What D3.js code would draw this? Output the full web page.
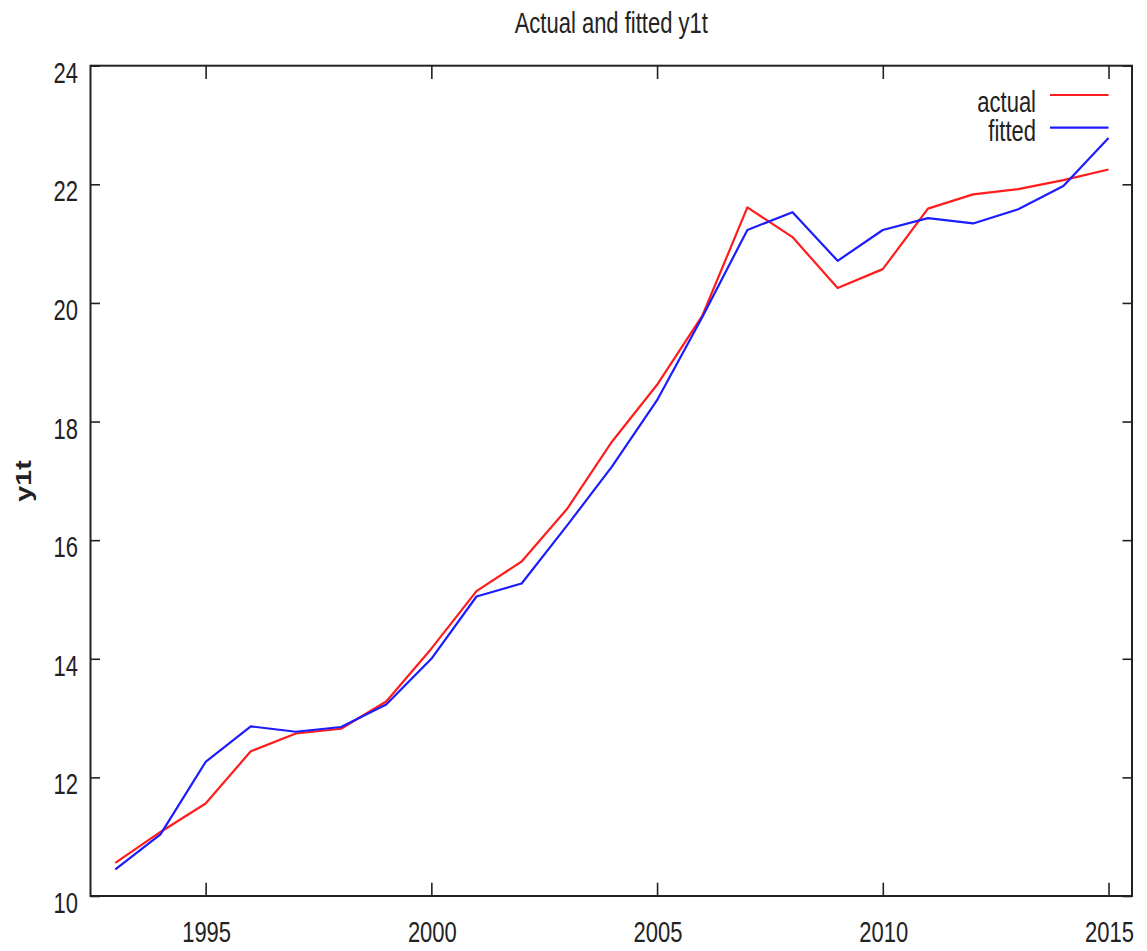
<!DOCTYPE html>
<html>
<head>
<meta charset="utf-8">
<script src="https://cdn.jsdelivr.net/npm/d3@7"></script>
<style>
  html, body { margin: 0; padding: 0; background: #ffffff; }
  svg text { font-family: "Liberation Sans", Arial, sans-serif; fill: #222; }
</style>
</head>
<body>
<div id="chart"></div>
<script>
// Years on the horizontal axis
const years = [1993, 1994, 1995, 1996, 1997, 1998, 1999, 2000, 2001, 2002, 2003, 2004,
               2005, 2006, 2007, 2008, 2009, 2010, 2011, 2012, 2013, 2014, 2015];

// Observed series
const actual = [10.56, 11.08, 11.56, 12.44, 12.74, 12.82, 13.28, 14.17, 15.14, 15.64, 16.52, 17.66,
                18.62, 19.78, 21.61, 21.11, 20.25, 20.57, 21.59, 21.83, 21.92, 22.07, 22.25];

// Model fitted values
const fitted = [10.45, 11.04, 12.26, 12.86, 12.77, 12.85, 13.23, 14.00, 15.05, 15.27, 16.24, 17.24,
                18.36, 19.76, 21.23, 21.53, 20.71, 21.23, 21.43, 21.34, 21.58, 21.97, 22.78];

const xTicks = [1995, 2000, 2005, 2010, 2015];
const yTicks = [10, 12, 14, 16, 18, 20, 22, 24];

const seriesNames = ["actual", "fitted"];
const seriesColors = ["#ff1c1c", "#1c1cff"];

const W = 1147, H = 951;
const plotLeft = 90.5, plotRight = 1132, plotTop = 65.7, plotBottom = 896;
const stretch = 1.3;   // text is drawn tall and narrow
const fontSize = 22;

const svg = d3.select("#chart").append("svg")
  .attr("width", W).attr("height", H);

const x = d3.scaleLinear().domain([1992.45, 2015.52]).range([plotLeft, plotRight]);
const y = d3.scaleLinear().domain([10, 24]).range([plotBottom, plotTop]);

// Helper for stretched text
function label(sel, tx, ty, txt, anchor, opts = {}) {
  const g = sel.append("g")
    .attr("transform", `translate(${tx},${ty}) scale(1,${stretch})` + (opts.rotate ? ` rotate(${opts.rotate})` : ""));
  g.append("text")
    .attr("text-anchor", anchor)
    .attr("font-size", opts.size || fontSize)
    .attr("font-weight", opts.weight || "normal")
    .text(txt);
  return g;
}

// Title
label(svg, (plotLeft + plotRight) / 2, 32.5, "Actual and fitted y1t", "middle");

// Y axis label
label(svg, 31, 481, "y1t", "middle", { rotate: -90, weight: "bold" });

// Bottom axis (ticks inward, labels below)
const xAxisBottom = d3.axisBottom(x).tickValues(xTicks).tickSize(-13.3).tickFormat("");
svg.append("g").attr("transform", `translate(0,${plotBottom})`).call(xAxisBottom)
  .call(g => g.select(".domain").remove())
  .call(g => g.selectAll(".tick line").attr("stroke", "#222").attr("stroke-width", 1.6));
xTicks.forEach(t => label(svg, x(t) + 1, 941.5, d3.format("d")(t), "middle"));

// Top axis mirrored ticks
const xAxisTop = d3.axisTop(x).tickValues(xTicks).tickSize(-13.3).tickFormat("");
svg.append("g").attr("transform", `translate(0,${plotTop})`).call(xAxisTop)
  .call(g => g.select(".domain").remove())
  .call(g => g.selectAll(".tick line").attr("stroke", "#222").attr("stroke-width", 1.6));

// Left axis
const yAxisLeft = d3.axisLeft(y).tickValues(yTicks).tickSize(-9.5).tickFormat("");
svg.append("g").attr("transform", `translate(${plotLeft},0)`).call(yAxisLeft)
  .call(g => g.select(".domain").remove())
  .call(g => g.selectAll(".tick line").attr("stroke", "#222").attr("stroke-width", 1.6));
yTicks.forEach(t => label(svg, 78, y(t) + 17, String(t), "end"));

// Right axis mirrored ticks
const yAxisRight = d3.axisRight(y).tickValues(yTicks).tickSize(-9.5).tickFormat("");
svg.append("g").attr("transform", `translate(${plotRight},0)`).call(yAxisRight)
  .call(g => g.select(".domain").remove())
  .call(g => g.selectAll(".tick line").attr("stroke", "#222").attr("stroke-width", 1.6));

// Series lines
const line = d3.line().x(d => x(d[0])).y(d => y(d[1]));
[actual, fitted].forEach((vals, i) => {
  svg.append("path")
    .datum(years.map((yr, k) => [yr, vals[k]]))
    .attr("fill", "none")
    .attr("stroke", seriesColors[i])
    .attr("stroke-width", 2.2)
    .attr("stroke-linejoin", "round")
    .attr("d", line);
});

// Plot frame
svg.append("rect")
  .attr("x", plotLeft).attr("y", plotTop)
  .attr("width", plotRight - plotLeft).attr("height", plotBottom - plotTop)
  .attr("fill", "none").attr("stroke", "#222").attr("stroke-width", 2);

// Legend
const legendRows = [
  { name: seriesNames[0], color: seriesColors[0], textY: 111.5, lineY: 95 },
  { name: seriesNames[1], color: seriesColors[1], textY: 140.5, lineY: 127.7 }
];
legendRows.forEach(r => {
  label(svg, 1036, r.textY, r.name, "end");
  svg.append("line")
    .attr("x1", 1050).attr("x2", 1108.5)
    .attr("y1", r.lineY).attr("y2", r.lineY)
    .attr("stroke", r.color).attr("stroke-width", 2.2);
});
</script>
</body>
</html>
